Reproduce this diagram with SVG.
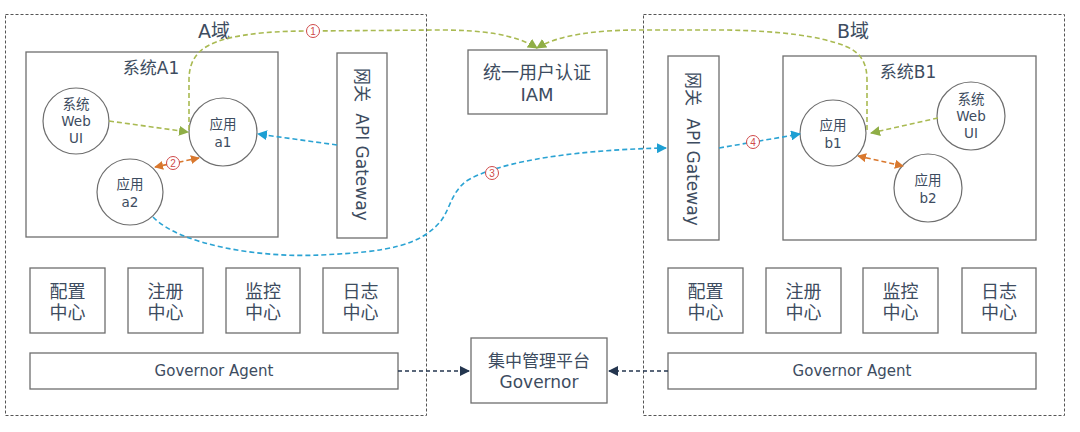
<svg xmlns="http://www.w3.org/2000/svg" width="1080" height="432" viewBox="0 0 1080 432">
<style>
text{font-family:"DejaVu Sans","Noto Sans CJK SC",sans-serif;fill:#3d4c60;text-anchor:middle;dominant-baseline:central}
.dom{fill:none;stroke:#555;stroke-width:1;stroke-dasharray:3 2}
.box{fill:#fff;stroke:#6e6e6e;stroke-width:1.3}
.circ{fill:#fff;stroke:#6e6e6e;stroke-width:1.2}
.g{fill:none;stroke:#a9ba52;stroke-width:1.6;stroke-dasharray:5 3}
.b{fill:none;stroke:#2ba3d3;stroke-width:1.6;stroke-dasharray:5 3}
.o{fill:none;stroke:#d9782e;stroke-width:1.6;stroke-dasharray:5 3}
.n{fill:none;stroke:#24364f;stroke-width:1.4;stroke-dasharray:4 3}
.num{fill:#fff;stroke:#cf4a4a;stroke-width:1}
.numt{fill:#cf4a4a;font-size:10px;font-family:"Liberation Sans",sans-serif}
.big{font-size:19px}
.t17{font-size:17px}
.t13{font-size:13.5px}
.t18{font-size:18px}
.t15{font-size:15px}
.gw{font-size:17px}
</style>
<defs>
<marker id="ag" viewBox="0 0 10 10" refX="9" refY="5" markerWidth="10" markerHeight="10" markerUnits="userSpaceOnUse" orient="auto"><path d="M0,0 L10,5 L0,10 z" fill="#8fae46"/></marker>
<marker id="ab" viewBox="0 0 10 10" refX="9" refY="5" markerWidth="10" markerHeight="10" markerUnits="userSpaceOnUse" orient="auto"><path d="M0,0 L10,5 L0,10 z" fill="#1d9fd3"/></marker>
<marker id="ao" viewBox="0 0 10 10" refX="9" refY="5" markerWidth="9" markerHeight="9" markerUnits="userSpaceOnUse" orient="auto-start-reverse"><path d="M0,0 L10,5 L0,10 z" fill="#d9782e"/></marker>
<marker id="an" viewBox="0 0 10 10" refX="9" refY="5" markerWidth="10" markerHeight="10" markerUnits="userSpaceOnUse" orient="auto"><path d="M0,0 L10,5 L0,10 z" fill="#24364f"/></marker>
</defs>
<rect width="1080" height="432" fill="#fff"/>

<g id="domainA">
<rect class="dom" x="5.5" y="14.5" width="421" height="401"/>
<text class="big" x="214" y="31">A域</text>
</g>
<g id="domainB">
<rect class="dom" x="643.5" y="14.5" width="421" height="401"/>
<text class="big" x="853" y="31">B域</text>
</g>

<g id="systemA1">
<rect class="box" x="26" y="52" width="252" height="185"/>
<text class="t17" x="151" y="68">系统A1</text>
</g>
<g id="webuiA"><circle class="circ" cx="76" cy="121" r="33"/><text class="t13" x="76" y="104">系统</text><text class="t13" x="76" y="121">Web</text><text class="t13" x="76" y="138">UI</text></g>
<g id="a1"><circle class="circ" cx="223" cy="132" r="34"/><text class="t13" x="223" y="124">应用</text><text class="t13" x="223" y="142">a1</text></g>
<g id="a2"><circle class="circ" cx="130" cy="192" r="33"/><text class="t13" x="130" y="184">应用</text><text class="t13" x="130" y="202">a2</text></g>
<g id="gatewayA">
<rect class="box" x="337" y="53" width="50" height="185"/>
<text class="gw" transform="translate(362,85) rotate(90)">网关</text>
<text class="gw" transform="translate(362,167) rotate(90)">API Gateway</text>
</g>

<g id="iam">
<rect class="box" x="468" y="50" width="139" height="64"/>
<text class="t18" x="537" y="72">统一用户认证</text>
<text class="t18" x="537" y="94">IAM</text>
</g>
<g id="governor">
<rect class="box" x="471" y="338" width="136" height="65"/>
<text class="t17" x="539" y="361">集中管理平台</text>
<text class="t17" x="539" y="382">Governor</text>
</g>

<g id="gatewayB">
<rect class="box" x="668" y="56" width="51" height="184"/>
<text class="gw" transform="translate(693,89) rotate(90)">网关</text>
<text class="gw" transform="translate(693,172) rotate(90)">API Gateway</text>
</g>
<g id="systemB1">
<rect class="box" x="783" y="56" width="253" height="184"/>
<text class="t17" x="908" y="72">系统B1</text>
</g>
<g id="b1"><circle class="circ" cx="833" cy="133" r="33"/><text class="t13" x="833" y="125">应用</text><text class="t13" x="833" y="143">b1</text></g>
<g id="webuiB"><circle class="circ" cx="971" cy="116" r="34"/><text class="t13" x="971" y="99">系统</text><text class="t13" x="971" y="116">Web</text><text class="t13" x="971" y="133">UI</text></g>
<g id="b2"><circle class="circ" cx="928" cy="188" r="34"/><text class="t13" x="928" y="180">应用</text><text class="t13" x="928" y="198">b2</text></g>

<g id="centersA">
<g id="cfgA"><rect class="box" x="30" y="268" width="75" height="65"/><text class="t18" x="67.5" y="291">配置</text><text class="t18" x="67.5" y="312">中心</text></g>
<g id="regA"><rect class="box" x="128" y="268" width="75" height="65"/><text class="t18" x="165.5" y="291">注册</text><text class="t18" x="165.5" y="312">中心</text></g>
<g id="monA"><rect class="box" x="226" y="268" width="74" height="65"/><text class="t18" x="263" y="291">监控</text><text class="t18" x="263" y="312">中心</text></g>
<g id="logA"><rect class="box" x="323" y="268" width="75" height="65"/><text class="t18" x="360.5" y="291">日志</text><text class="t18" x="360.5" y="312">中心</text></g>
</g>
<g id="agentA"><rect class="box" x="30" y="353" width="368" height="36"/><text class="t15" x="214" y="371">Governor Agent</text></g>

<g id="centersB">
<g id="cfgB"><rect class="box" x="668" y="268" width="75" height="65"/><text class="t18" x="705.5" y="291">配置</text><text class="t18" x="705.5" y="312">中心</text></g>
<g id="regB"><rect class="box" x="766" y="268" width="75" height="65"/><text class="t18" x="803.5" y="291">注册</text><text class="t18" x="803.5" y="312">中心</text></g>
<g id="monB"><rect class="box" x="863" y="268" width="75" height="65"/><text class="t18" x="900.5" y="291">监控</text><text class="t18" x="900.5" y="312">中心</text></g>
<g id="logB"><rect class="box" x="962" y="268" width="74" height="65"/><text class="t18" x="999" y="291">日志</text><text class="t18" x="999" y="312">中心</text></g>
</g>
<g id="agentB"><rect class="box" x="668" y="353" width="368" height="36"/><text class="t15" x="852" y="371">Governor Agent</text></g>

<g id="connectors">
<path class="n" d="M398,371 L469,371" marker-end="url(#an)"/>
<path class="n" d="M668,371 L609,371" marker-end="url(#an)"/>
<path class="g" d="M109,121 L188,132" marker-end="url(#ag)"/>
<path class="g" d="M938,118 L871,133" marker-end="url(#ag)"/>
<path class="g" d="M189,130 L189,80 C189,58 200,46 225,39 C250,33 275,31 313,31 L440,30 C480,30 515,34 537,48" marker-end="url(#ag)"/>
<path class="g" d="M867,130 L867,80 C867,62 860,52 845,46 C820,36 780,31 727,30 L640,30 C600,30 560,34 537,48" marker-end="url(#ag)"/>
<path class="o" d="M155,167 L199,158" marker-start="url(#ao)" marker-end="url(#ao)"/>
<path class="o" d="M858,156 L903,166" marker-start="url(#ao)" marker-end="url(#ao)"/>
<path class="b" d="M337,145 L258,134" marker-end="url(#ab)"/>
<path class="b" d="M719,148 L800,134" marker-end="url(#ab)"/>
<path class="b" d="M153,217 C180,245 260,258 320,255 C390,252 420,245 440,222 C450,210 450,195 465,182 C490,165 560,150 666,148" marker-end="url(#ab)"/>
<g id="num1"><circle class="num" cx="313" cy="31" r="6.5"/><text class="numt" x="313" y="31">1</text></g>
<g id="num2"><circle class="num" cx="173" cy="163" r="6.5"/><text class="numt" x="173" y="163">2</text></g>
<g id="num3"><circle class="num" cx="492" cy="173" r="6.5"/><text class="numt" x="492" y="173">3</text></g>
<g id="num4"><circle class="num" cx="753" cy="142" r="6.5"/><text class="numt" x="753" y="142">4</text></g>
</g>
</svg>
